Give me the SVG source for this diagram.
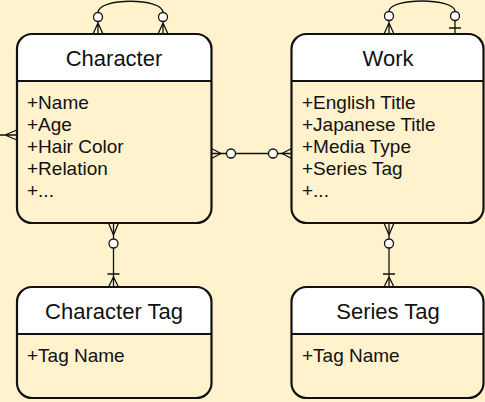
<svg xmlns="http://www.w3.org/2000/svg" width="485" height="402" viewBox="0 0 485 402">
  <defs>
    <style>
      .bg { fill: #fff2cc; }
      .body { fill: #fff2cc; stroke: none; }
      .head { fill: #ffffff; stroke: none; }
      .outline { fill: none; stroke: #111; stroke-width: 2.2; }
      .sep { stroke: #111; stroke-width: 2.2; }
      .title { font-family: "Liberation Sans", Arial, sans-serif; font-size: 22px; fill: #111; text-anchor: middle; }
      .attr { font-family: "Liberation Sans", Arial, sans-serif; font-size: 19px; fill: #111; }
      .edge { fill: none; stroke: #111; stroke-width: 1.3; }
      .ring { fill: #ffffff; stroke: #111; stroke-width: 1.3; }
    </style>
  </defs>

  <rect class="bg" x="0" y="0" width="485" height="402"/>

  <!-- relationship lines -->
  <g id="connectors">
    <!-- Character self relation -->
    <path class="edge" d="M98,12.5 C98,-2.5 163,-2.5 163,12.5"/>
    <path class="edge" d="M98,21 V34 M98,23 L93,34 M98,23 L103,34"/>
    <path class="edge" d="M163,21 V34 M163,23 L158,34 M163,23 L168,34"/>
    <circle class="ring" cx="98" cy="17" r="4.5"/>
    <circle class="ring" cx="163" cy="17" r="4.5"/>

    <!-- Work self relation -->
    <path class="edge" d="M389,11.5 C389,-2.5 455,-2.5 455,11.5"/>
    <path class="edge" d="M389,20 V34 M389,23 L384,34 M389,23 L394,34"/>
    <path class="edge" d="M455,20 V34 M449,28 H461"/>
    <circle class="ring" cx="389" cy="16" r="4.5"/>
    <circle class="ring" cx="455" cy="16" r="4.5"/>

    <!-- Character to Work -->
    <path class="edge" d="M211.5,153.5 H291.5"/>
    <path class="edge" d="M221,153.5 L211.5,148.5 M221,153.5 L211.5,158.5"/>
    <path class="edge" d="M282,153.5 L291.5,148.5 M282,153.5 L291.5,158.5"/>
    <circle class="ring" cx="231" cy="153.5" r="4.5"/>
    <circle class="ring" cx="273" cy="153.5" r="4.5"/>

    <!-- Character to Character Tag -->
    <path class="edge" d="M113.5,223 V287"/>
    <path class="edge" d="M113.5,235 L108.5,223 M113.5,235 L118.5,223"/>
    <path class="edge" d="M107.5,274 H119.5 M113.5,277 L108.5,287 M113.5,277 L118.5,287"/>
    <circle class="ring" cx="113.5" cy="243.5" r="4.5"/>

    <!-- Work to Series Tag -->
    <path class="edge" d="M389,223 V287"/>
    <path class="edge" d="M389,235 L384,223 M389,235 L394,223"/>
    <path class="edge" d="M383,274 H395 M389,277 L384,287 M389,277 L394,287"/>
    <circle class="ring" cx="389" cy="243.5" r="4.5"/>

    <!-- incoming relation at the left edge -->
    <path class="edge" d="M0,135 H17 M5,135 L17,130 M5,135 L17,140"/>
  </g>

  <!-- Character -->
  <g id="character">
    <rect class="body" x="17" y="34" width="194.5" height="189" rx="15"/>
    <path class="head" d="M17,81 V49 A15,15 0 0 1 32,34 H196.5 A15,15 0 0 1 211.5,49 V81 Z"/>
    <line class="sep" x1="17" y1="81" x2="211.5" y2="81"/>
    <rect class="outline" x="17" y="34" width="194.5" height="189" rx="15"/>
    <text class="title" x="114" y="66">Character</text>
    <text class="attr" x="27" y="109">+Name</text>
    <text class="attr" x="27" y="131">+Age</text>
    <text class="attr" x="27" y="153">+Hair Color</text>
    <text class="attr" x="27" y="175">+Relation</text>
    <text class="attr" x="27" y="197">+...</text>
  </g>

  <!-- Work -->
  <g id="work">
    <rect class="body" x="291.5" y="34" width="192" height="189" rx="15"/>
    <path class="head" d="M291.5,81 V49 A15,15 0 0 1 306.5,34 H468.5 A15,15 0 0 1 483.5,49 V81 Z"/>
    <line class="sep" x1="291.5" y1="81" x2="483.5" y2="81"/>
    <rect class="outline" x="291.5" y="34" width="192" height="189" rx="15"/>
    <text class="title" x="388" y="66">Work</text>
    <text class="attr" x="302" y="109">+English Title</text>
    <text class="attr" x="302" y="131">+Japanese Title</text>
    <text class="attr" x="302" y="153">+Media Type</text>
    <text class="attr" x="302" y="175">+Series Tag</text>
    <text class="attr" x="302" y="197">+...</text>
  </g>

  <!-- Character Tag -->
  <g id="character-tag">
    <rect class="body" x="17" y="287" width="194.5" height="111" rx="15"/>
    <path class="head" d="M17,334 V302 A15,15 0 0 1 32,287 H196.5 A15,15 0 0 1 211.5,302 V334 Z"/>
    <line class="sep" x1="17" y1="334" x2="211.5" y2="334"/>
    <rect class="outline" x="17" y="287" width="194.5" height="111" rx="15"/>
    <text class="title" x="114" y="319">Character Tag</text>
    <text class="attr" x="27" y="362">+Tag Name</text>
  </g>

  <!-- Series Tag -->
  <g id="series-tag">
    <rect class="body" x="291.5" y="287" width="192" height="111" rx="15"/>
    <path class="head" d="M291.5,334 V302 A15,15 0 0 1 306.5,287 H468.5 A15,15 0 0 1 483.5,302 V334 Z"/>
    <line class="sep" x1="291.5" y1="334" x2="483.5" y2="334"/>
    <rect class="outline" x="291.5" y="287" width="192" height="111" rx="15"/>
    <text class="title" x="388" y="319">Series Tag</text>
    <text class="attr" x="302" y="362">+Tag Name</text>
  </g>
</svg>
